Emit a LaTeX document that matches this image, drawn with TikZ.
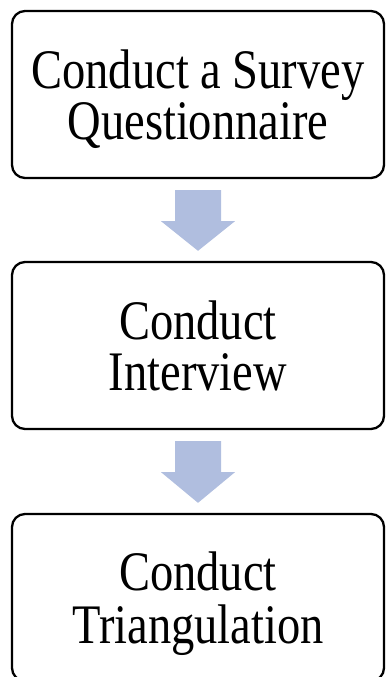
\documentclass[tikz,border=0pt]{standalone}
\usepackage{fontspec}
\setmainfont{Liberation Serif}
\usetikzlibrary{calc}
\definecolor{arrowblue}{RGB}{176,190,223}
\newcommand{\boxtext}[1]{\raisebox{-7pt}[\height][\depth]{\scalebox{1}[1.2]{\begin{tabular}{@{}c@{}}#1\end{tabular}}}}
\begin{document}
\begin{tikzpicture}[x=1pt,y=-1pt,
  stepbox/.style={draw=black,line width=2.3pt,rounded corners=13pt,
    minimum width=372pt,minimum height=167pt,inner sep=0pt,
    font=\fontsize{46.5}{38}\selectfont,align=center},
  blockarrow/.style={fill=arrowblue,draw=none}]
\useasboundingbox (0,0) rectangle (386,677);
\node[stepbox] (b1) at (198,94.5) {\boxtext{Conduct a Survey\\Questionnaire}};
\node[stepbox] (b2) at (198,345.5) {\boxtext{Conduct\\Interview}};
\node[stepbox] (b3) at (198,597.5) {\boxtext{Conduct\\Triangulation}};
\foreach \a/\b in {b1/b2,b2/b3}{
  \fill[blockarrow]
    ($(\a.south)+(-23,11)$) -- ($(\a.south)+(23,11)$) --
    ($(\a.south)+(23,42)$) -- ($(\a.south)+(37,42)$) --
    ($(\b.north)+(0,-10)$) --
    ($(\a.south)+(-37,42)$) -- ($(\a.south)+(-23,42)$) -- cycle;
}
\end{tikzpicture}
\end{document}
